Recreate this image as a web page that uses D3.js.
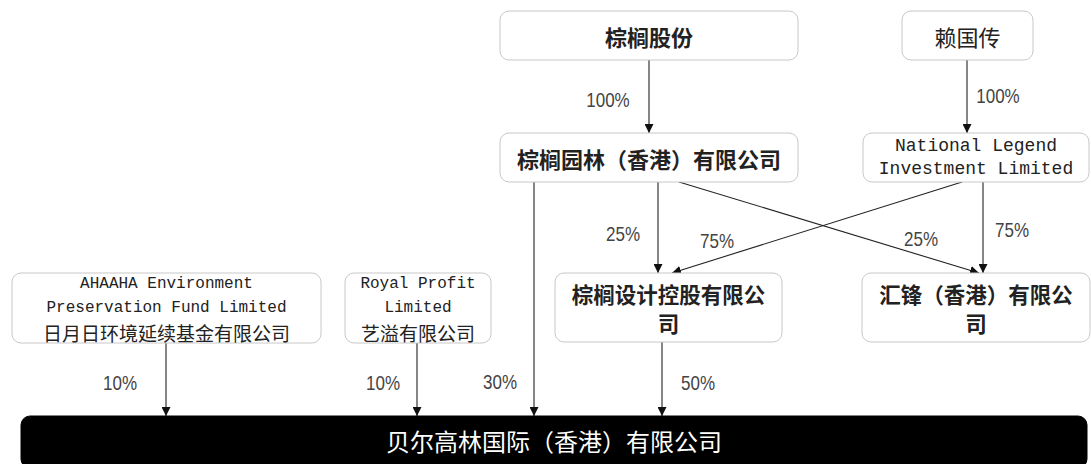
<!DOCTYPE html>
<html>
<head>
<meta charset="utf-8">
<script src="https://cdn.jsdelivr.net/npm/d3@7"></script>
<style>
  body { margin: 0; background: #fff; }
  svg { display: block; }
</style>
</head>
<body>
<svg id="chart" width="1091" height="464"></svg>
<script>
// companies (id, label lines)
var nodeIds = ['zlgf', 'lgc', 'zlyl', 'nl', 'ahaaha', 'royal', 'zlsj', 'hf', 'bege'];
var nodeLines = [
  ['棕榈股份'],
  ['赖国传'],
  ['棕榈园林（香港）有限公司'],
  ['National Legend', 'Investment Limited'],
  ['AHAAHA Environment', 'Preservation Fund Limited', '日月日环境延续基金有限公司'],
  ['Royal Profit', 'Limited', '艺溢有限公司'],
  ['棕榈设计控股有限公', '司'],
  ['汇锋（香港）有限公', '司'],
  ['贝尔高林国际（香港）有限公司']
];
// shareholdings
var edgeFrom = ['zlgf', 'lgc', 'zlyl', 'nl', 'zlyl', 'nl', 'ahaaha', 'royal', 'zlyl', 'zlsj'];
var edgeTo   = ['zlyl', 'nl', 'zlsj', 'zlsj', 'hf', 'hf', 'bege', 'bege', 'bege', 'bege'];
var edgePct  = ['100%', '100%', '25%', '75%', '25%', '75%', '10%', '10%', '30%', '50%'];

// layout (pixels)
var box = {
  zlgf:   {x: 500, y: 11,  w: 298, h: 49, bold: true,  size: 22},
  lgc:    {x: 902, y: 11,  w: 131, h: 49, bold: false, size: 22},
  zlyl:   {x: 500, y: 133, w: 298, h: 49, bold: true,  size: 22},
  nl:     {x: 863, y: 133, w: 226, h: 49, bold: false, size: 18, lh: 23},
  ahaaha: {x: 12,  y: 273, w: 309, h: 70, bold: false, size: 16, lh: 24, cjkSize: 19},
  royal:  {x: 345, y: 273, w: 146, h: 70, bold: false, size: 16, lh: 24, cjkSize: 19},
  zlsj:   {x: 555, y: 273, w: 227, h: 69, bold: true,  size: 21.5, lh: 29},
  hf:     {x: 862, y: 273, w: 228, h: 69, bold: true,  size: 21.5, lh: 29},
  bege:   {x: 21,  y: 416, w: 1066, h: 52, bold: false, size: 24, dark: true}
};
// edge geometry: [x1, y1, x2, y2, labelX, labelY]
var edgeGeom = [
  [649, 60, 649, 133, 608, 100],
  [967, 60, 967, 133, 998, 96],
  [658, 182, 658, 273, 623, 234],
  [962, 182, 672, 273, 717, 241],
  [679, 182, 979, 273, 921, 239],
  [983, 182, 983, 273, 1012, 230],
  [166, 343, 166, 416, 120, 383],
  [417, 343, 417, 416, 383, 383],
  [534, 182, 534, 416, 500, 382],
  [662, 342, 662, 416, 698, 383]
];

var svg = d3.select('#chart');
var cjk = '"Noto Sans CJK SC", sans-serif';
var mono = '"Liberation Mono", "DejaVu Sans Mono", monospace';

svg.append('defs').append('marker')
  .attr('id', 'arr')
  .attr('viewBox', '0 0 10 10')
  .attr('refX', 10).attr('refY', 5)
  .attr('markerWidth', 9).attr('markerHeight', 9)
  .attr('markerUnits', 'userSpaceOnUse')
  .attr('orient', 'auto')
  .append('path').attr('d', 'M0,0 L10,5 L0,10 Z').attr('fill', '#111');

var edges = edgeFrom.map(function (f, i) {
  return {from: f, to: edgeTo[i], pct: edgePct[i], g: edgeGeom[i]};
});

svg.append('g').selectAll('line').data(edges).enter().append('line')
  .attr('x1', function (d) { return d.g[0]; })
  .attr('y1', function (d) { return d.g[1]; })
  .attr('x2', function (d) { return d.g[2]; })
  .attr('y2', function (d) { return d.g[3]; })
  .attr('stroke', '#222').attr('stroke-width', 1.1)
  .attr('marker-end', 'url(#arr)');

//percent labels, squeezed a bit to look like the narrow font of the original
svg.append('g').selectAll('text').data(edges).enter().append('text')
  .attr('text-anchor', 'middle').attr('dominant-baseline', 'central')
  .attr('font-family', '"Liberation Sans Narrow", "Liberation Sans", sans-serif')
  .attr('font-size', 20).attr('fill', '#444')
  .attr('transform', function (d) { return 'translate(' + d.g[4] + ',' + d.g[5] + ') scale(0.85,1)'; })
  .text(function (d) { return d.pct; });

var nodes = nodeIds.map(function (id, i) {
  return {id: id, lines: nodeLines[i], b: box[id]};
});

var ng = svg.append('g').selectAll('g').data(nodes).enter().append('g');

ng.append('rect')
  .attr('x', function (d) { return d.b.x; })
  .attr('y', function (d) { return d.b.y; })
  .attr('width', function (d) { return d.b.w; })
  .attr('height', function (d) { return d.b.h; })
  .attr('rx', 9).attr('ry', 9)
  .attr('fill', function (d) { return d.b.dark ? '#000' : '#fff'; })
  .attr('stroke', function (d) { return d.b.dark ? '#000' : '#c8c8c8'; })
  .attr('stroke-width', 1);

//one text per box, each line as a tspan
ng.each(function (d) {
  var b = d.b;
  var lh = b.lh || 24;
  var cx = b.x + b.w / 2;
  var cy = b.y + (b.dark ? 24 : b.h / 2);
  var n = d.lines.length;
  var t = d3.select(this).append('text')
    .attr('text-anchor', 'middle')
    .attr('dominant-baseline', 'central')
    .attr('font-weight', b.bold ? 700 : 400)
    .attr('fill', b.dark ? '#fff' : '#222');
  d.lines.forEach(function (line, i) {
    var isLatin = /^[\x00-\x7f]+$/.test(line);
    t.append('tspan')
      .attr('x', cx)
      .attr('y', cy + (i - (n - 1) / 2) * lh)
      .attr('font-family', isLatin ? mono : cjk)
      .attr('font-size', isLatin ? b.size : (b.cjkSize || b.size))
      .text(line);
  });
});
</script>
</body>
</html>
